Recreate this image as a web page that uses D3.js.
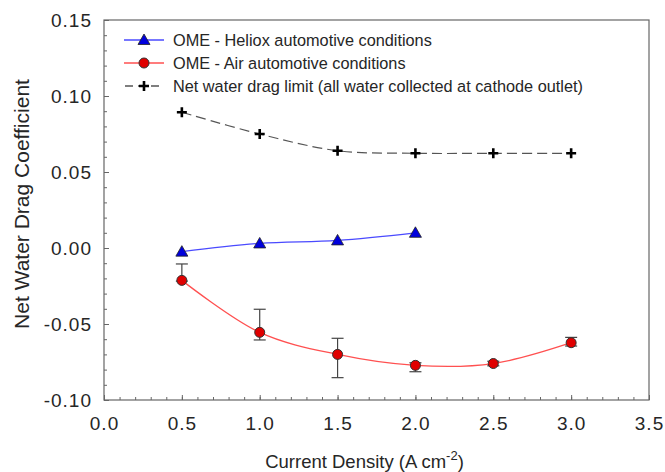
<!DOCTYPE html>
<html><head><meta charset="utf-8">
<script src="https://cdn.jsdelivr.net/npm/d3@7"></script>
<style>body{margin:0;background:#fff;font-family:"Liberation Sans",Arial,sans-serif;}</style>
</head><body>
<svg id="c" width="665" height="472"></svg>
<script>
const xValues = [0.5, 1.0, 1.5, 2.0, 2.5, 3.0];
const helioxX = [0.5, 1.0, 1.5, 2.0];
const helioxY = [-0.0024, 0.003, 0.005, 0.010];
const airY = [-0.0213, -0.0555, -0.070, -0.0772, -0.076, -0.0623];
const airErrTop = [-0.0105, -0.0403, -0.0594, -0.0755, -0.0745, -0.0588];
const airErrBottom = [-0.0218, -0.0605, -0.0853, -0.0814, -0.0775, -0.0645];
const limitY = [0.0893, 0.075, 0.064, 0.0623, 0.0623, 0.0623];
const xTicks = [0.0, 0.5, 1.0, 1.5, 2.0, 2.5, 3.0, 3.5];
const yTicks = [-0.10, -0.05, 0.00, 0.05, 0.10, 0.15];
const legendLabels = ["OME - Heliox automotive conditions", "OME - Air automotive conditions", "Net water drag limit (all water collected at cathode outlet)"];

const svg = d3.select("#c");
const L = 104, R = 649, T = 20, B = 400;
const x = d3.scaleLinear().domain([0, 3.5]).range([L, R]);
const y = d3.scaleLinear().domain([-0.10, 0.15]).range([B, T]);
const frameCol = "#666";
const txtCol = "#262626";

// minor ticks
const xMinor = d3.range(0, 3.5001, 0.1);
const yMinor = d3.range(-0.10, 0.15001, 0.01);
const gx = svg.append("g").attr("transform", `translate(0,${B})`)
  .call(d3.axisBottom(x).tickValues(xMinor).tickSize(-3).tickFormat(""));
const gx2 = svg.append("g").attr("transform", `translate(0,${B})`)
  .call(d3.axisBottom(x).tickValues(xTicks).tickSize(-5).tickPadding(17).tickFormat(d3.format(".1f")));
const gy = svg.append("g").attr("transform", `translate(${L},0)`)
  .call(d3.axisLeft(y).tickValues(yMinor).tickSize(-3).tickFormat(""));
const gy2 = svg.append("g").attr("transform", `translate(${L},0)`)
  .call(d3.axisLeft(y).tickValues(yTicks).tickSize(-5).tickPadding(12).tickFormat(d3.format(".2f")));
[gx, gx2, gy, gy2].forEach(g => {
  g.select(".domain").remove();
  g.selectAll("line").attr("stroke", frameCol);
  g.selectAll("text").attr("font-family", "Liberation Sans, Arial, sans-serif").attr("font-size", 19)
    .attr("letter-spacing", 1).attr("fill", txtCol);
});
gy2.selectAll("text").text(d => d3.format(".2f")(d).replace("−", "-"));
gx2.selectAll("text").attr("dy", "0.71em");

svg.append("rect").attr("x", L).attr("y", T).attr("width", R - L).attr("height", B - T)
  .attr("fill", "none").attr("stroke", frameCol).attr("stroke-width", 1.2);

// axis titles
svg.append("text").attr("x", (L + R) / 2 - 12).attr("y", 468).attr("text-anchor", "middle")
  .attr("font-size", 18.5).attr("fill", txtCol)
  .html('Current Density (A cm<tspan dy="-8" font-size="13">-2</tspan><tspan dy="8">)</tspan>');
svg.append("text").attr("transform", `translate(29,${204}) rotate(-90)`).attr("text-anchor", "middle")
  .attr("font-size", 21).attr("fill", txtCol).text("Net Water Drag Coefficient");

const curve = d3.curveCatmullRom.alpha(0.5);

// limit line
const limitPts = xValues.map((v, i) => [v, limitY[i]]);
svg.append("path").datum(limitPts)
  .attr("d", d3.line().x(d => x(d[0])).y(d => y(d[1])).curve(curve))
  .attr("fill", "none").attr("stroke", "#555").attr("stroke-width", 1.2).attr("stroke-dasharray", "10,5");
// heliox line
const helPts = helioxX.map((v, i) => [v, helioxY[i]]);
svg.append("path").datum(helPts)
  .attr("d", d3.line().x(d => x(d[0])).y(d => y(d[1])).curve(curve))
  .attr("fill", "none").attr("stroke", "#4a4aff").attr("stroke-width", 1.3);
// air line
const airPts = xValues.map((v, i) => [v, airY[i]]);
svg.append("path").datum(airPts)
  .attr("d", d3.line().x(d => x(d[0])).y(d => y(d[1])).curve(curve))
  .attr("fill", "none").attr("stroke", "#ff5050").attr("stroke-width", 1.3);

// error bars
const eb = svg.append("g").attr("stroke", "#444").attr("stroke-width", 1.2);
xValues.forEach((v, i) => {
  const cx = x(v);
  eb.append("line").attr("x1", cx).attr("x2", cx).attr("y1", y(airErrTop[i])).attr("y2", y(airErrBottom[i]));
  eb.append("line").attr("x1", cx - 6).attr("x2", cx + 6).attr("y1", y(airErrTop[i])).attr("y2", y(airErrTop[i]));
  eb.append("line").attr("x1", cx - 6).attr("x2", cx + 6).attr("y1", y(airErrBottom[i])).attr("y2", y(airErrBottom[i]));
});

function cross(g, cx, cy) {
  g.append("path").attr("d", `M${cx - 5},${cy}H${cx + 5}M${cx},${cy - 5}V${cy + 5}`)
    .attr("stroke", "#000").attr("stroke-width", 2.6).attr("fill", "none");
}
function tri(g, cx, cy) {
  g.append("path").attr("d", `M${cx},${cy - 6}L${cx + 6},${cy + 4.5}L${cx - 6},${cy + 4.5}Z`)
    .attr("fill", "#0000dd").attr("stroke", "#222").attr("stroke-width", 0.8);
}
function circ(g, cx, cy) {
  g.append("circle").attr("cx", cx).attr("cy", cy).attr("r", 5)
    .attr("fill", "#e00000").attr("stroke", "#333").attr("stroke-width", 1);
}
const mk = svg.append("g");
limitPts.forEach(d => cross(mk, x(d[0]), y(d[1])));
helPts.forEach(d => tri(mk, x(d[0]), y(d[1])));
airPts.forEach(d => circ(mk, x(d[0]), y(d[1])));

// legend
const leg = svg.append("g");
const legY = [40, 63, 86];
const legStroke = ["#4a4aff", "#ff5050", "#555"];
legendLabels.forEach((t, i) => {
  const ln = leg.append("line").attr("x1", 124).attr("x2", 164).attr("y1", legY[i]).attr("y2", legY[i])
    .attr("stroke", legStroke[i]).attr("stroke-width", 1.3);
  if (i === 2) ln.attr("stroke-dasharray", "8,5").attr("x1", 125);
  if (i === 0) tri(leg, 144, legY[i]);
  if (i === 1) circ(leg, 144, legY[i]);
  if (i === 2) cross(leg, 144, legY[i]);
  leg.append("text").attr("x", 173).attr("y", legY[i]).attr("dy", "0.35em")
    .attr("font-size", 16.3).attr("fill", txtCol).text(t);
});
</script>
</body></html>
